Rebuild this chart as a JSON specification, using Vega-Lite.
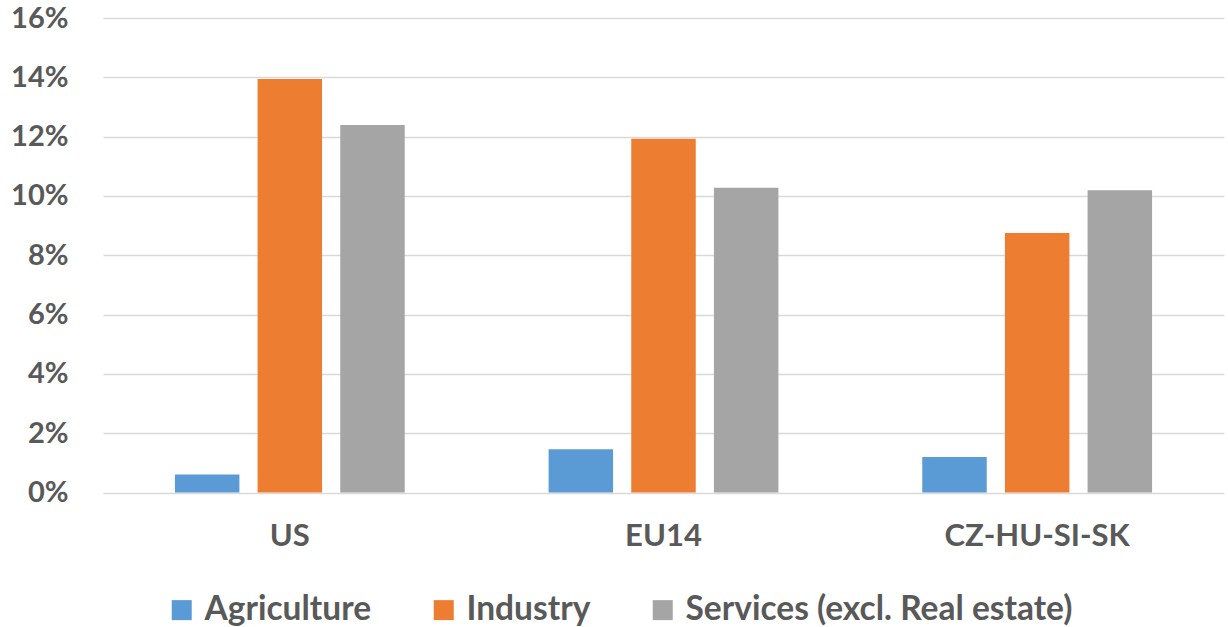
{
  "$schema": "https://vega.github.io/schema/vega-lite/v6.json",
  "width": 1121,
  "height": 474.5,
  "autosize": "none",
  "padding": {"left": 103, "top": 18, "right": 4, "bottom": 134.5},
  "background": "white",
  "data": {
    "values": [
      {"region": "US", "sector": "Agriculture", "value": 0.0061},
      {"region": "US", "sector": "Industry", "value": 0.1394},
      {"region": "US", "sector": "Services (excl. Real estate)", "value": 0.1239},
      {"region": "EU14", "sector": "Agriculture", "value": 0.0146},
      {"region": "EU14", "sector": "Industry", "value": 0.1193},
      {"region": "EU14", "sector": "Services (excl. Real estate)", "value": 0.1028},
      {"region": "CZ-HU-SI-SK", "sector": "Agriculture", "value": 0.0120},
      {"region": "CZ-HU-SI-SK", "sector": "Industry", "value": 0.0875},
      {"region": "CZ-HU-SI-SK", "sector": "Services (excl. Real estate)", "value": 0.1019}
    ]
  },
  "mark": {"type": "bar"},
  "encoding": {
    "x": {
      "field": "region",
      "type": "nominal",
      "sort": ["US", "EU14", "CZ-HU-SI-SK"],
      "scale": {"paddingInner": 0.385, "paddingOuter": 0.1925},
      "axis": {
        "title": null,
        "labelAngle": 0,
        "labelFont": "Lato",
        "labelFontWeight": "bold",
        "labelFontSize": 31,
        "labelColor": "#595959",
        "labelPadding": 29,
        "labelLimit": 0,
        "ticks": false,
        "domain": false,
        "grid": false
      }
    },
    "xOffset": {
      "field": "sector",
      "type": "nominal",
      "sort": ["Agriculture", "Industry", "Services (excl. Real estate)"],
      "scale": {"paddingInner": 0.22, "paddingOuter": 0}
    },
    "y": {
      "field": "value",
      "type": "quantitative",
      "scale": {"domain": [0, 0.16], "nice": false},
      "axis": {
        "title": null,
        "format": ".0%",
        "values": [0, 0.02, 0.04, 0.06, 0.08, 0.1, 0.12, 0.14, 0.16],
        "labelFont": "Lato",
        "labelFontWeight": "bold",
        "labelFontSize": 29,
        "labelColor": "#595959",
        "labelPadding": 35,
        "ticks": false,
        "domain": false,
        "grid": true,
        "gridColor": "#D9D9D9",
        "gridWidth": 1.5
      }
    },
    "color": {
      "field": "sector",
      "type": "nominal",
      "sort": ["Agriculture", "Industry", "Services (excl. Real estate)"],
      "scale": {
        "domain": ["Agriculture", "Industry", "Services (excl. Real estate)"],
        "range": ["#5B9BD5", "#ED7D31", "#A5A5A5"]
      },
      "legend": {
        "title": null,
        "orient": "none",
        "legendX": 62,
        "legendY": 575,
        "direction": "horizontal",
        "symbolType": "square",
        "symbolSize": 400,
        "symbolStrokeWidth": 0,
        "labelFont": "Lato",
        "labelFontWeight": "bold",
        "labelFontSize": 33.5,
        "labelColor": "#595959",
        "labelLimit": 0,
        "columnPadding": 55,
        "labelOffset": 6
      }
    }
  },
  "config": {"view": {"stroke": null}}
}
